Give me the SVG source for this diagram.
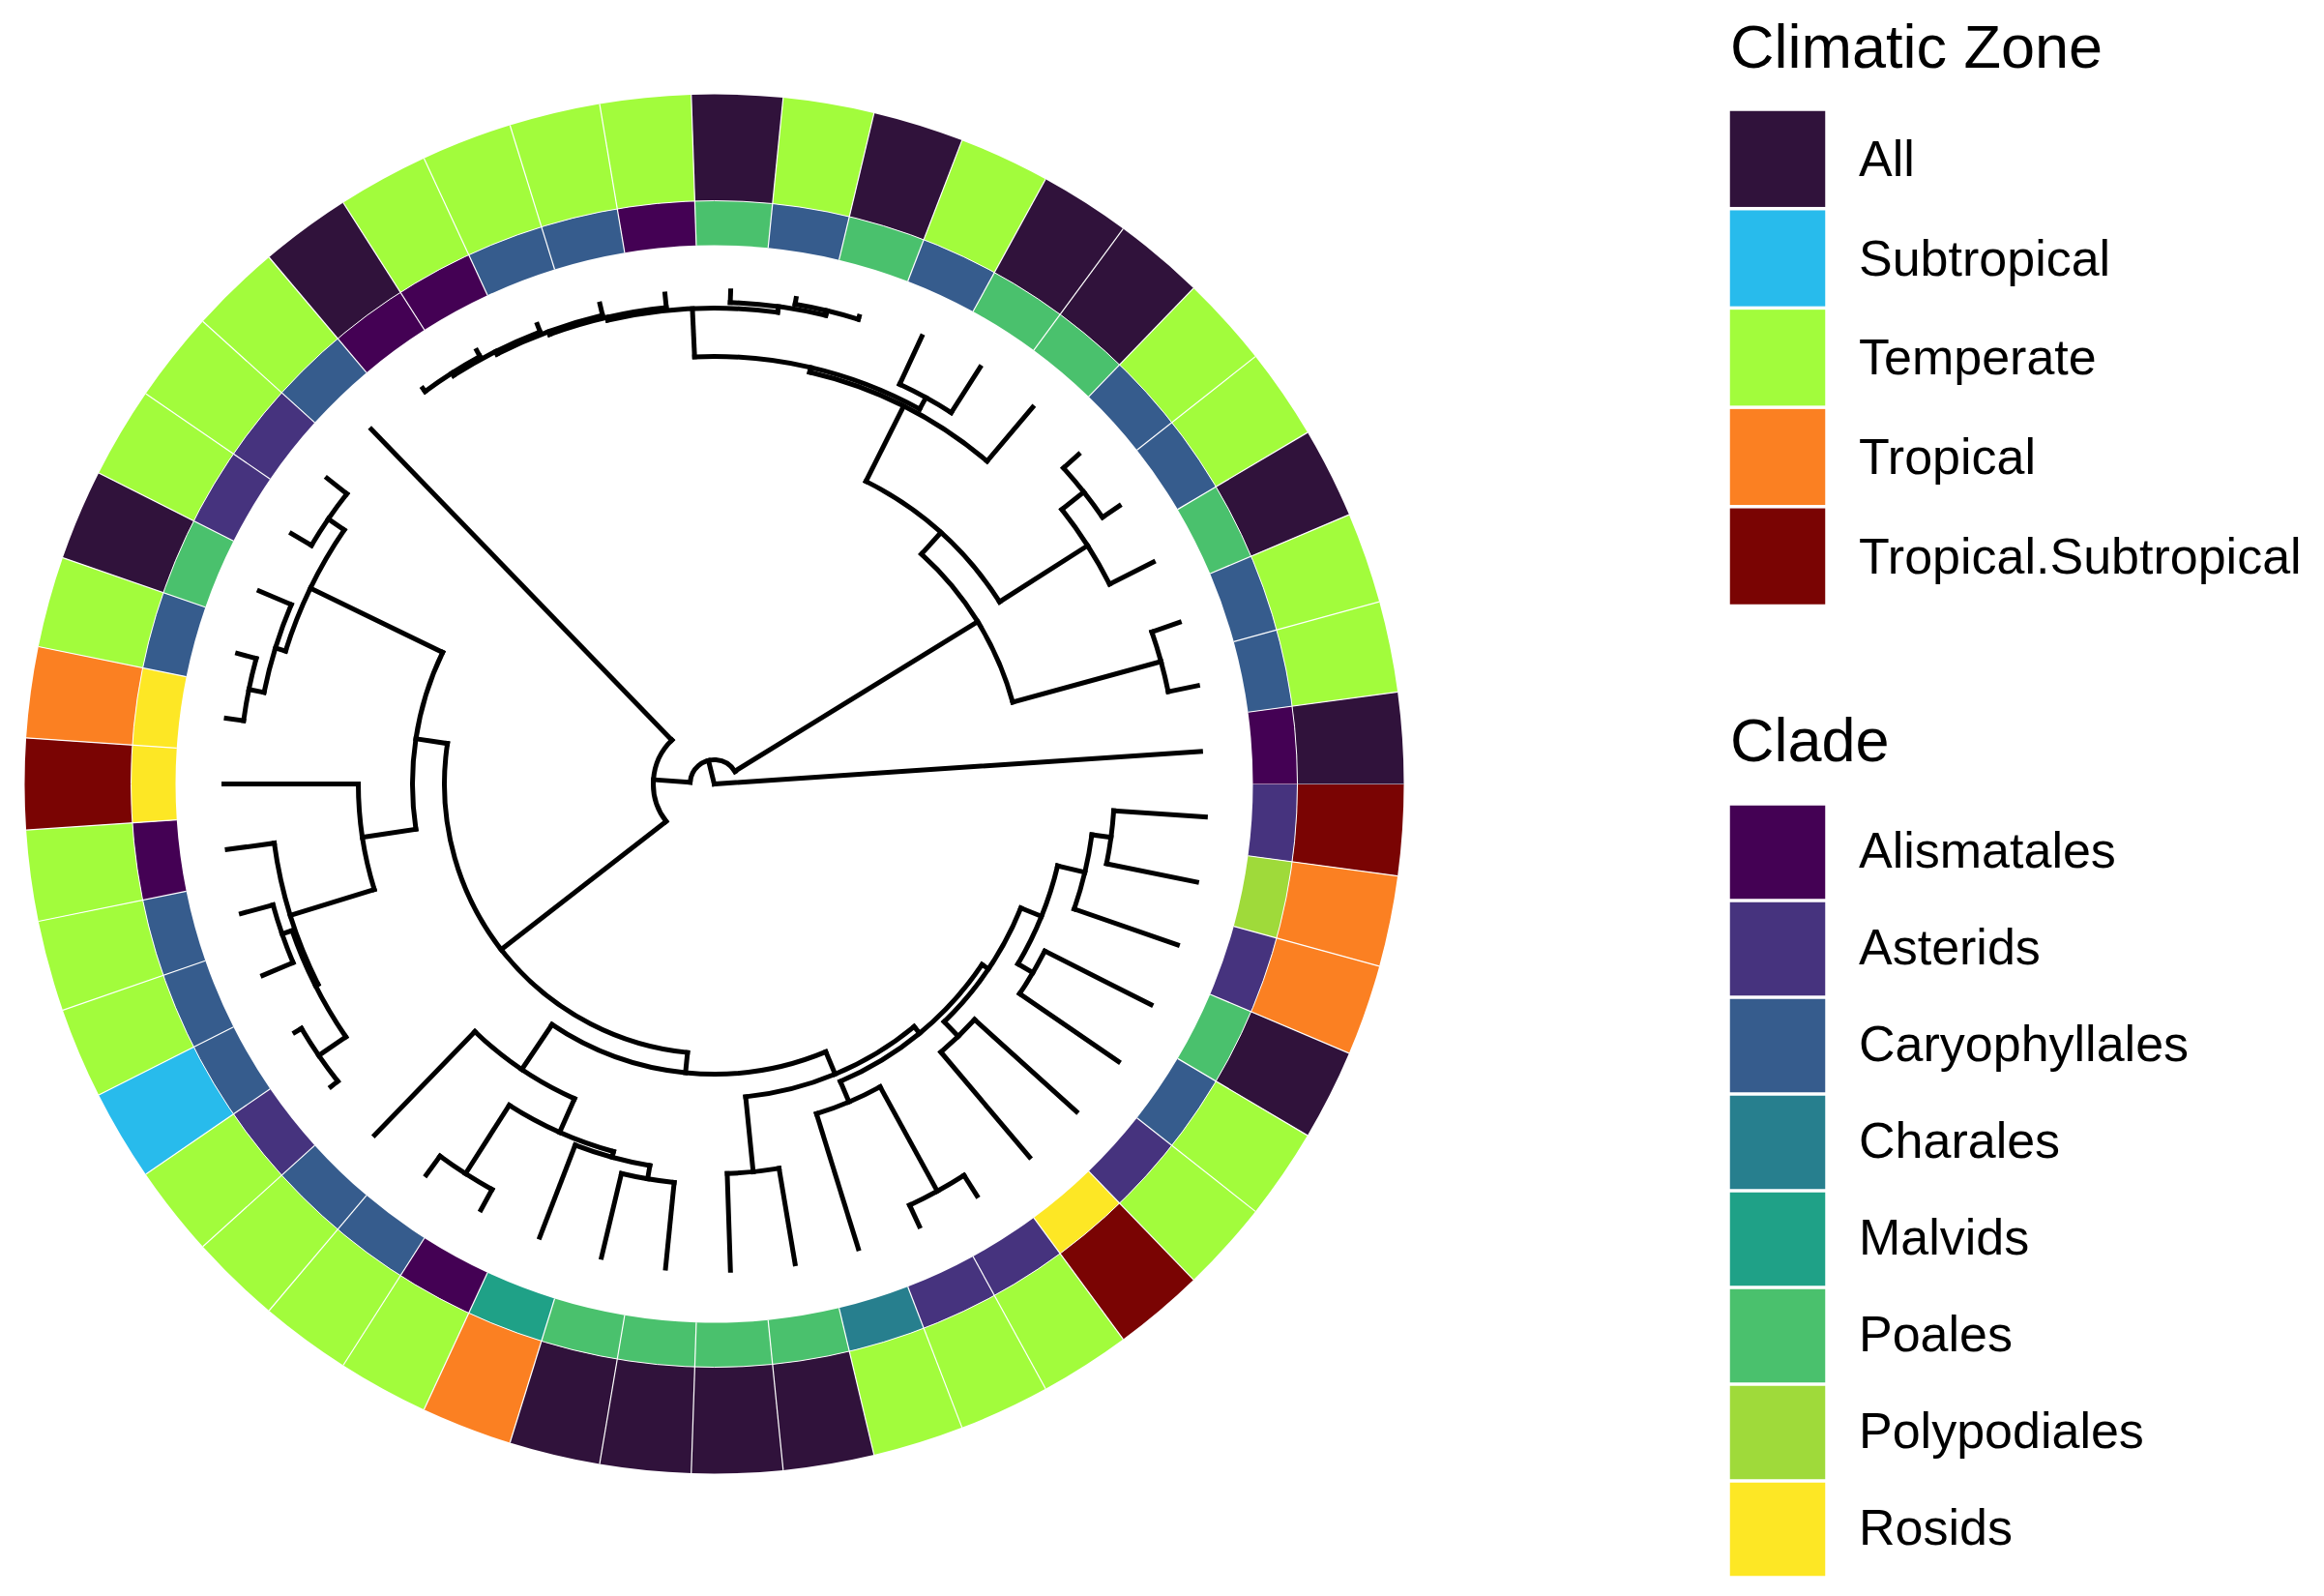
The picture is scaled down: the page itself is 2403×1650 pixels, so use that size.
<svg xmlns="http://www.w3.org/2000/svg" width="2403" height="1650" viewBox="0 0 2403 1650">
<style>
.bg{fill:#fff}
.ci,.co{fill:none}
.ci{stroke-width:46px;stroke-dasharray:77.54 4000}
.co{stroke-width:110px;stroke-dasharray:87.96 5000}
.sep{stroke:#fff;stroke-width:1.2px}
.z1{stroke:#30123B}.z2{stroke:#28BBEC}.z3{stroke:#A2FC3C}.z4{stroke:#FB8022}.z5{stroke:#7A0403}
.c1{stroke:#440154}.c2{stroke:#46337E}.c3{stroke:#365C8D}.c4{stroke:#277F8E}.c5{stroke:#1FA187}.c6{stroke:#4AC16D}.c7{stroke:#9FDA3A}.c8{stroke:#FDE725}
.br{fill:none;stroke:#000;stroke-width:5px;stroke-linecap:square}
.lt{font-family:"Liberation Sans",Arial,sans-serif;font-size:63px;fill:#000}
.ll{font-family:"Liberation Sans",Arial,sans-serif;font-size:52px;fill:#000}
.k{stroke:#fff;stroke-width:1.5px}
</style>
<rect class="bg" width="2403" height="1650"/>
<g id="rings" transform="translate(738.5 810.5)">
<g id="tip-00" transform="rotate(0)"><circle class="ci c2" r="580"/><circle class="co z5" r="658"/><line class="sep" x1="557" x2="713"/></g>
<g id="tip-01" transform="rotate(7.66)"><circle class="ci c7" r="580"/><circle class="co z4" r="658"/><line class="sep" x1="557" x2="713"/></g>
<g id="tip-02" transform="rotate(15.32)"><circle class="ci c2" r="580"/><circle class="co z4" r="658"/><line class="sep" x1="557" x2="713"/></g>
<g id="tip-03" transform="rotate(22.98)"><circle class="ci c6" r="580"/><circle class="co z1" r="658"/><line class="sep" x1="557" x2="713"/></g>
<g id="tip-04" transform="rotate(30.64)"><circle class="ci c3" r="580"/><circle class="co z3" r="658"/><line class="sep" x1="557" x2="713"/></g>
<g id="tip-05" transform="rotate(38.30)"><circle class="ci c2" r="580"/><circle class="co z3" r="658"/><line class="sep" x1="557" x2="713"/></g>
<g id="tip-06" transform="rotate(45.96)"><circle class="ci c8" r="580"/><circle class="co z5" r="658"/><line class="sep" x1="557" x2="713"/></g>
<g id="tip-07" transform="rotate(53.62)"><circle class="ci c2" r="580"/><circle class="co z3" r="658"/><line class="sep" x1="557" x2="713"/></g>
<g id="tip-08" transform="rotate(61.28)"><circle class="ci c2" r="580"/><circle class="co z3" r="658"/><line class="sep" x1="557" x2="713"/></g>
<g id="tip-09" transform="rotate(68.94)"><circle class="ci c4" r="580"/><circle class="co z3" r="658"/><line class="sep" x1="557" x2="713"/></g>
<g id="tip-10" transform="rotate(76.60)"><circle class="ci c6" r="580"/><circle class="co z1" r="658"/><line class="sep" x1="557" x2="713"/></g>
<g id="tip-11" transform="rotate(84.26)"><circle class="ci c6" r="580"/><circle class="co z1" r="658"/><line class="sep" x1="557" x2="713"/></g>
<g id="tip-12" transform="rotate(91.91)"><circle class="ci c6" r="580"/><circle class="co z1" r="658"/><line class="sep" x1="557" x2="713"/></g>
<g id="tip-13" transform="rotate(99.57)"><circle class="ci c6" r="580"/><circle class="co z1" r="658"/><line class="sep" x1="557" x2="713"/></g>
<g id="tip-14" transform="rotate(107.23)"><circle class="ci c5" r="580"/><circle class="co z4" r="658"/><line class="sep" x1="557" x2="713"/></g>
<g id="tip-15" transform="rotate(114.89)"><circle class="ci c1" r="580"/><circle class="co z3" r="658"/><line class="sep" x1="557" x2="713"/></g>
<g id="tip-16" transform="rotate(122.55)"><circle class="ci c3" r="580"/><circle class="co z3" r="658"/><line class="sep" x1="557" x2="713"/></g>
<g id="tip-17" transform="rotate(130.21)"><circle class="ci c3" r="580"/><circle class="co z3" r="658"/><line class="sep" x1="557" x2="713"/></g>
<g id="tip-18" transform="rotate(137.87)"><circle class="ci c2" r="580"/><circle class="co z3" r="658"/><line class="sep" x1="557" x2="713"/></g>
<g id="tip-19" transform="rotate(145.53)"><circle class="ci c3" r="580"/><circle class="co z2" r="658"/><line class="sep" x1="557" x2="713"/></g>
<g id="tip-20" transform="rotate(153.19)"><circle class="ci c3" r="580"/><circle class="co z3" r="658"/><line class="sep" x1="557" x2="713"/></g>
<g id="tip-21" transform="rotate(160.85)"><circle class="ci c3" r="580"/><circle class="co z3" r="658"/><line class="sep" x1="557" x2="713"/></g>
<g id="tip-22" transform="rotate(168.51)"><circle class="ci c1" r="580"/><circle class="co z3" r="658"/><line class="sep" x1="557" x2="713"/></g>
<g id="tip-23" transform="rotate(176.17)"><circle class="ci c8" r="580"/><circle class="co z5" r="658"/><line class="sep" x1="557" x2="713"/></g>
<g id="tip-24" transform="rotate(183.83)"><circle class="ci c8" r="580"/><circle class="co z4" r="658"/><line class="sep" x1="557" x2="713"/></g>
<g id="tip-25" transform="rotate(191.49)"><circle class="ci c3" r="580"/><circle class="co z3" r="658"/><line class="sep" x1="557" x2="713"/></g>
<g id="tip-26" transform="rotate(199.15)"><circle class="ci c6" r="580"/><circle class="co z1" r="658"/><line class="sep" x1="557" x2="713"/></g>
<g id="tip-27" transform="rotate(206.81)"><circle class="ci c2" r="580"/><circle class="co z3" r="658"/><line class="sep" x1="557" x2="713"/></g>
<g id="tip-28" transform="rotate(214.47)"><circle class="ci c2" r="580"/><circle class="co z3" r="658"/><line class="sep" x1="557" x2="713"/></g>
<g id="tip-29" transform="rotate(222.13)"><circle class="ci c3" r="580"/><circle class="co z3" r="658"/><line class="sep" x1="557" x2="713"/></g>
<g id="tip-30" transform="rotate(229.79)"><circle class="ci c1" r="580"/><circle class="co z1" r="658"/><line class="sep" x1="557" x2="713"/></g>
<g id="tip-31" transform="rotate(237.45)"><circle class="ci c1" r="580"/><circle class="co z3" r="658"/><line class="sep" x1="557" x2="713"/></g>
<g id="tip-32" transform="rotate(245.11)"><circle class="ci c3" r="580"/><circle class="co z3" r="658"/><line class="sep" x1="557" x2="713"/></g>
<g id="tip-33" transform="rotate(252.77)"><circle class="ci c3" r="580"/><circle class="co z3" r="658"/><line class="sep" x1="557" x2="713"/></g>
<g id="tip-34" transform="rotate(260.43)"><circle class="ci c1" r="580"/><circle class="co z3" r="658"/><line class="sep" x1="557" x2="713"/></g>
<g id="tip-35" transform="rotate(268.09)"><circle class="ci c6" r="580"/><circle class="co z1" r="658"/><line class="sep" x1="557" x2="713"/></g>
<g id="tip-36" transform="rotate(275.74)"><circle class="ci c3" r="580"/><circle class="co z3" r="658"/><line class="sep" x1="557" x2="713"/></g>
<g id="tip-37" transform="rotate(283.40)"><circle class="ci c6" r="580"/><circle class="co z1" r="658"/><line class="sep" x1="557" x2="713"/></g>
<g id="tip-38" transform="rotate(291.06)"><circle class="ci c3" r="580"/><circle class="co z3" r="658"/><line class="sep" x1="557" x2="713"/></g>
<g id="tip-39" transform="rotate(298.72)"><circle class="ci c6" r="580"/><circle class="co z1" r="658"/><line class="sep" x1="557" x2="713"/></g>
<g id="tip-40" transform="rotate(306.38)"><circle class="ci c6" r="580"/><circle class="co z1" r="658"/><line class="sep" x1="557" x2="713"/></g>
<g id="tip-41" transform="rotate(314.04)"><circle class="ci c3" r="580"/><circle class="co z3" r="658"/><line class="sep" x1="557" x2="713"/></g>
<g id="tip-42" transform="rotate(321.70)"><circle class="ci c3" r="580"/><circle class="co z3" r="658"/><line class="sep" x1="557" x2="713"/></g>
<g id="tip-43" transform="rotate(329.36)"><circle class="ci c6" r="580"/><circle class="co z1" r="658"/><line class="sep" x1="557" x2="713"/></g>
<g id="tip-44" transform="rotate(337.02)"><circle class="ci c3" r="580"/><circle class="co z3" r="658"/><line class="sep" x1="557" x2="713"/></g>
<g id="tip-45" transform="rotate(344.68)"><circle class="ci c3" r="580"/><circle class="co z3" r="658"/><line class="sep" x1="557" x2="713"/></g>
<g id="tip-46" transform="rotate(352.34)"><circle class="ci c1" r="580"/><circle class="co z1" r="658"/><line class="sep" x1="557" x2="713"/></g>
<circle r="603" fill="none" stroke="#fff" stroke-width="1"/>
</g>
<g id="tree" class="br" transform="translate(738.5 810.5)">
<g id="tip-branches">
<line y1="-414" y2="-509" transform="rotate(93.83)"/>
<line y1="-414" y2="-509" transform="rotate(101.49)"/>
<line y1="-394" y2="-507" transform="rotate(109.15)"/>
<line y1="-383" y2="-506" transform="rotate(116.81)"/>
<line y1="-383" y2="-507" transform="rotate(124.47)"/>
<line y1="-363" y2="-505" transform="rotate(132.13)"/>
<line y1="-363" y2="-505" transform="rotate(139.79)"/>
<line y1="-480" y2="-505" transform="rotate(147.45)"/>
<line y1="-480" y2="-504" transform="rotate(155.11)"/>
<line y1="-357" y2="-503" transform="rotate(162.77)"/>
<line y1="-403" y2="-503" transform="rotate(170.43)"/>
<line y1="-403" y2="-503" transform="rotate(178.09)"/>
<line y1="-414" y2="-503" transform="rotate(185.74)"/>
<line y1="-414" y2="-503" transform="rotate(193.40)"/>
<line y1="-400" y2="-502" transform="rotate(201.06)"/>
<line y1="-478" y2="-502" transform="rotate(208.72)"/>
<line y1="-478" y2="-502" transform="rotate(216.38)"/>
<line y1="-356" y2="-505" transform="rotate(224.04)"/>
<line y1="-496" y2="-505" transform="rotate(231.70)"/>
<line y1="-496" y2="-504" transform="rotate(239.36)"/>
<line y1="-473" y2="-507" transform="rotate(247.02)"/>
<line y1="-473" y2="-507" transform="rotate(254.68)"/>
<line y1="-459" y2="-508" transform="rotate(262.34)"/>
<line y1="-368" y2="-507" transform="rotate(270)"/>
<line y1="-491" y2="-509" transform="rotate(277.66)"/>
<line y1="-491" y2="-511" transform="rotate(285.32)"/>
<line y1="-475" y2="-511" transform="rotate(292.98)"/>
<line y1="-484" y2="-508" transform="rotate(300.64)"/>
<line y1="-484" y2="-510" transform="rotate(308.30)"/>
<line y1="-63" y2="-510" transform="rotate(315.96)"/>
<line y1="-504" y2="-508" transform="rotate(323.62)"/>
<line y1="-504" y2="-511" transform="rotate(331.28)"/>
<line y1="-501" y2="-509" transform="rotate(338.94)"/>
<line y1="-498" y2="-510" transform="rotate(346.60)"/>
<line y1="-495" y2="-509" transform="rotate(354.26)"/>
<line y1="-498" y2="-510" transform="rotate(1.91)"/>
<line y1="-503" y2="-509" transform="rotate(9.57)"/>
<line y1="-503" y2="-506" transform="rotate(17.23)"/>
<line y1="-455.5" y2="-510" transform="rotate(24.89)"/>
<line y1="-455.5" y2="-511" transform="rotate(32.55)"/>
<line y1="-437" y2="-510" transform="rotate(40.21)"/>
<line y1="-487" y2="-508" transform="rotate(47.87)"/>
<line y1="-487" y2="-508" transform="rotate(55.53)"/>
<line y1="-458" y2="-508.6" transform="rotate(63.19)"/>
<line y1="-479" y2="-509" transform="rotate(70.85)"/>
<line y1="-479" y2="-510" transform="rotate(78.51)"/>
<line y1="0" y2="-504" transform="rotate(86.17)"/>
</g>
<g id="inner-branches">
<line y1="-394" y2="-414" transform="rotate(97.66)"/>
<line y1="-365" y2="-394" transform="rotate(103.40)"/>
<line y1="-365" y2="-383" transform="rotate(120.64)"/>
<line y1="-342" y2="-365" transform="rotate(112.02)"/>
<line y1="-342" y2="-363" transform="rotate(135.96)"/>
<line y1="-334" y2="-342" transform="rotate(123.99)"/>
<line y1="-357" y2="-480" transform="rotate(151.28)"/>
<line y1="-334" y2="-357" transform="rotate(157.02)"/>
<line y1="-325" y2="-334" transform="rotate(140.51)"/>
<line y1="-325" y2="-403" transform="rotate(174.26)"/>
<line y1="-300" y2="-325" transform="rotate(157.38)"/>
<line y1="-400" y2="-414" transform="rotate(189.57)"/>
<line y1="-394" y2="-400" transform="rotate(195.32)"/>
<line y1="-394" y2="-478" transform="rotate(212.55)"/>
<line y1="-356" y2="-394" transform="rotate(203.94)"/>
<line y1="-300" y2="-356" transform="rotate(213.99)"/>
<line y1="-279" y2="-300" transform="rotate(185.68)"/>
<line y1="-462" y2="-496" transform="rotate(235.53)"/>
<line y1="-462" y2="-473" transform="rotate(250.85)"/>
<line y1="-459" y2="-462" transform="rotate(243.19)"/>
<line y1="-368" y2="-459" transform="rotate(252.77)"/>
<line y1="-312" y2="-368" transform="rotate(261.38)"/>
<line y1="-475" y2="-491" transform="rotate(281.49)"/>
<line y1="-464" y2="-475" transform="rotate(287.23)"/>
<line y1="-464" y2="-484" transform="rotate(304.47)"/>
<line y1="-312" y2="-464" transform="rotate(295.85)"/>
<line y1="-279" y2="-312" transform="rotate(278.62)"/>
<line y1="-63" y2="-279" transform="rotate(232.15)"/>
<line y1="-25" y2="-63" transform="rotate(274.05)"/>
<line y1="-501" y2="-504" transform="rotate(327.45)"/>
<line y1="-498" y2="-501" transform="rotate(333.19)"/>
<line y1="-495" y2="-498" transform="rotate(339.89)"/>
<line y1="-492" y2="-495" transform="rotate(347.07)"/>
<line y1="-498" y2="-503" transform="rotate(13.40)"/>
<line y1="-492" y2="-498" transform="rotate(7.66)"/>
<line y1="-442" y2="-492" transform="rotate(357.37)"/>
<line y1="-442" y2="-455.5" transform="rotate(28.72)"/>
<line y1="-437" y2="-442" transform="rotate(13.05)"/>
<line y1="-350" y2="-437" transform="rotate(26.63)"/>
<line y1="-458" y2="-487" transform="rotate(51.70)"/>
<line y1="-350" y2="-458" transform="rotate(57.45)"/>
<line y1="-320" y2="-350" transform="rotate(42.04)"/>
<line y1="-320" y2="-479" transform="rotate(74.68)"/>
<line y1="-25" y2="-320" transform="rotate(58.36)"/>
<line y1="0" y2="-25" transform="rotate(346.21)"/>
</g>
<g id="node-arcs">
<circle r="414" transform="rotate(3.83)" stroke-dasharray="55.35 5000"/>
<circle r="394" transform="rotate(7.66)" stroke-dasharray="79.01 5000"/>
<circle r="383" transform="rotate(26.81)" stroke-dasharray="51.20 5000"/>
<circle r="365" transform="rotate(13.40)" stroke-dasharray="109.83 5000"/>
<circle r="363" transform="rotate(42.13)" stroke-dasharray="48.53 5000"/>
<circle r="342" transform="rotate(22.02)" stroke-dasharray="142.90 5000"/>
<circle r="480" transform="rotate(57.45)" stroke-dasharray="64.17 5000"/>
<circle r="357" transform="rotate(61.28)" stroke-dasharray="71.59 5000"/>
<circle r="334" transform="rotate(33.99)" stroke-dasharray="192.54 5000"/>
<circle r="403" transform="rotate(80.43)" stroke-dasharray="53.88 5000"/>
<circle r="325" transform="rotate(50.51)" stroke-dasharray="191.44 5000"/>
<circle r="414" transform="rotate(95.74)" stroke-dasharray="55.35 5000"/>
<circle r="400" transform="rotate(99.57)" stroke-dasharray="80.22 5000"/>
<circle r="478" transform="rotate(118.72)" stroke-dasharray="63.90 5000"/>
<circle r="394" transform="rotate(105.32)" stroke-dasharray="118.48 5000"/>
<circle r="356" transform="rotate(113.94)" stroke-dasharray="124.89 5000"/>
<circle r="300" transform="rotate(67.38)" stroke-dasharray="296.41 5000"/>
<circle r="496" transform="rotate(141.70)" stroke-dasharray="66.31 5000"/>
<circle r="473" transform="rotate(157.02)" stroke-dasharray="63.24 5000"/>
<circle r="462" transform="rotate(145.53)" stroke-dasharray="123.53 5000"/>
<circle r="459" transform="rotate(153.19)" stroke-dasharray="153.41 5000"/>
<circle r="368" transform="rotate(162.77)" stroke-dasharray="110.67 5000"/>
<circle r="491" transform="rotate(187.66)" stroke-dasharray="65.64 5000"/>
<circle r="475" transform="rotate(191.49)" stroke-dasharray="95.26 5000"/>
<circle r="484" transform="rotate(210.64)" stroke-dasharray="64.71 5000"/>
<circle r="464" transform="rotate(197.23)" stroke-dasharray="139.61 5000"/>
<circle r="312" transform="rotate(171.38)" stroke-dasharray="187.70 5000"/>
<circle r="279" transform="rotate(95.68)" stroke-dasharray="452.57 5000"/>
<circle r="63" transform="rotate(142.15)" stroke-dasharray="92.15 5000"/>
<circle r="504" transform="rotate(233.62)" stroke-dasharray="67.38 5000"/>
<circle r="501" transform="rotate(237.45)" stroke-dasharray="100.47 5000"/>
<circle r="498" transform="rotate(243.19)" stroke-dasharray="116.56 5000"/>
<circle r="495" transform="rotate(249.89)" stroke-dasharray="124.15 5000"/>
<circle r="503" transform="rotate(279.57)" stroke-dasharray="67.25 5000"/>
<circle r="498" transform="rotate(271.91)" stroke-dasharray="99.87 5000"/>
<circle r="492" transform="rotate(257.07)" stroke-dasharray="176.81 5000"/>
<circle r="455.5" transform="rotate(294.89)" stroke-dasharray="60.90 5000"/>
<circle r="442" transform="rotate(267.37)" stroke-dasharray="241.85 5000"/>
<circle r="437" transform="rotate(283.05)" stroke-dasharray="207.16 5000"/>
<circle r="487" transform="rotate(317.87)" stroke-dasharray="65.11 5000"/>
<circle r="458" transform="rotate(321.70)" stroke-dasharray="91.85 5000"/>
<circle r="350" transform="rotate(296.63)" stroke-dasharray="188.27 5000"/>
<circle r="479" transform="rotate(340.85)" stroke-dasharray="64.04 5000"/>
<circle r="320" transform="rotate(312.04)" stroke-dasharray="182.30 5000"/>
<circle r="25" transform="rotate(184.05)" stroke-dasharray="62.97 5000"/>
</g>
</g>
<g id="legend-climatic">
<text class="lt" x="1789" y="70">Climatic Zone</text>
<g id="key-all"><rect class="k" x="1788" y="114" width="100" height="100.7" fill="#30123B"/><text class="ll" x="1922" y="182">All</text></g>
<g id="key-subtropical"><rect class="k" x="1788" y="216.7" width="100" height="100.7" fill="#28BBEC"/><text class="ll" x="1922" y="284.7">Subtropical</text></g>
<g id="key-temperate"><rect class="k" x="1788" y="319.4" width="100" height="100.7" fill="#A2FC3C"/><text class="ll" x="1922" y="387.4">Temperate</text></g>
<g id="key-tropical"><rect class="k" x="1788" y="422.1" width="100" height="100.7" fill="#FB8022"/><text class="ll" x="1922" y="490.1">Tropical</text></g>
<g id="key-tropsub"><rect class="k" x="1788" y="524.8" width="100" height="100.7" fill="#7A0403"/><text class="ll" x="1922" y="592.8">Tropical.Subtropical</text></g>
</g>
<g id="legend-clade">
<text class="lt" x="1789" y="787">Clade</text>
<g id="key-alismatales"><rect class="k" x="1788" y="832" width="100" height="98" fill="#440154"/><text class="ll" x="1922" y="897">Alismatales</text></g>
<g id="key-asterids"><rect class="k" x="1788" y="932" width="100" height="98" fill="#46337E"/><text class="ll" x="1922" y="997">Asterids</text></g>
<g id="key-caryophyllales"><rect class="k" x="1788" y="1032" width="100" height="98" fill="#365C8D"/><text class="ll" x="1922" y="1097">Caryophyllales</text></g>
<g id="key-charales"><rect class="k" x="1788" y="1132" width="100" height="98" fill="#277F8E"/><text class="ll" x="1922" y="1197">Charales</text></g>
<g id="key-malvids"><rect class="k" x="1788" y="1232" width="100" height="98" fill="#1FA187"/><text class="ll" x="1922" y="1297">Malvids</text></g>
<g id="key-poales"><rect class="k" x="1788" y="1332" width="100" height="98" fill="#4AC16D"/><text class="ll" x="1922" y="1397">Poales</text></g>
<g id="key-polypodiales"><rect class="k" x="1788" y="1432" width="100" height="98" fill="#9FDA3A"/><text class="ll" x="1922" y="1497">Polypodiales</text></g>
<g id="key-rosids"><rect class="k" x="1788" y="1532" width="100" height="98" fill="#FDE725"/><text class="ll" x="1922" y="1597">Rosids</text></g>
</g>
</svg>
